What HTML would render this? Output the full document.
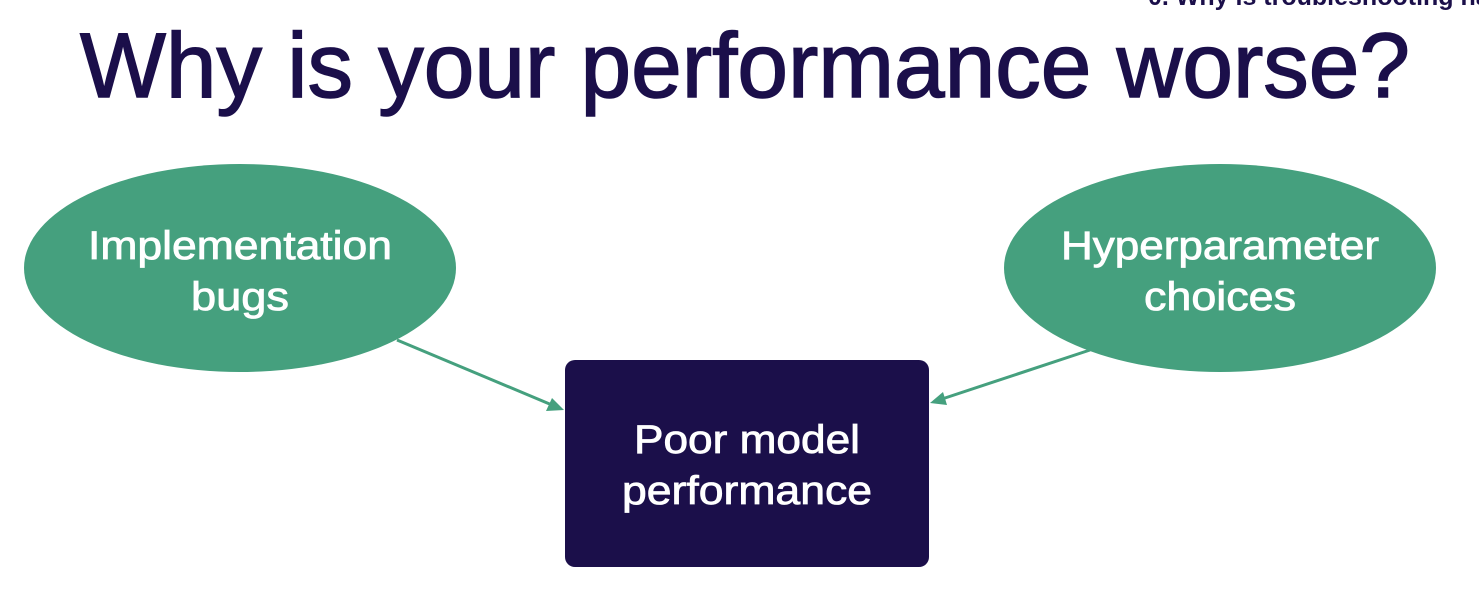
<!DOCTYPE html>
<html><head><style>
body{margin:0;width:1479px;height:606px;background:#fff;overflow:hidden;font-family:"Liberation Sans",sans-serif;}
</style></head><body>
<svg width="1479" height="606" xmlns="http://www.w3.org/2000/svg" style="position:absolute;left:0;top:0">
<text x="1148" y="5" font-size="25" font-weight="bold" fill="#1b0f4a" font-family="Liberation Sans, sans-serif">0. Why is troubleshooting hard?</text>
<text x="745" y="97" text-anchor="middle" font-size="92" fill="#1b0f4a" stroke="#1b0f4a" stroke-width="1.5" font-family="Liberation Sans, sans-serif" textLength="1330" lengthAdjust="spacingAndGlyphs">Why is your performance worse?</text>
<ellipse cx="240" cy="268" rx="216" ry="104" fill="#45a07e"/>
<ellipse cx="1220" cy="268" rx="216" ry="104" fill="#45a07e"/>
<rect x="565" y="360" width="364" height="207" rx="10" fill="#1b0f4a"/>
<g font-size="40" fill="#fff" stroke="#fff" stroke-width="0.8" text-anchor="middle" font-family="Liberation Sans, sans-serif">
<text x="240" y="259" textLength="304" lengthAdjust="spacingAndGlyphs">Implementation</text><text x="240" y="310" textLength="98" lengthAdjust="spacingAndGlyphs">bugs</text>
<text x="1220" y="259" textLength="318" lengthAdjust="spacingAndGlyphs">Hyperparameter</text><text x="1220" y="310" textLength="152" lengthAdjust="spacingAndGlyphs">choices</text>
<text x="747" y="453" textLength="226" lengthAdjust="spacingAndGlyphs">Poor model</text><text x="747" y="504" textLength="250" lengthAdjust="spacingAndGlyphs">performance</text>
</g>
<g stroke="#45a07e" stroke-width="3" fill="#45a07e">
<line x1="397" y1="340" x2="552" y2="405"/>
<polygon points="564,410 546,411 552,398" stroke="none"/>
<line x1="1090" y1="350" x2="942" y2="399"/>
<polygon points="930,403 943,392 947,405" stroke="none"/>
</g>
</svg>
</body></html>
